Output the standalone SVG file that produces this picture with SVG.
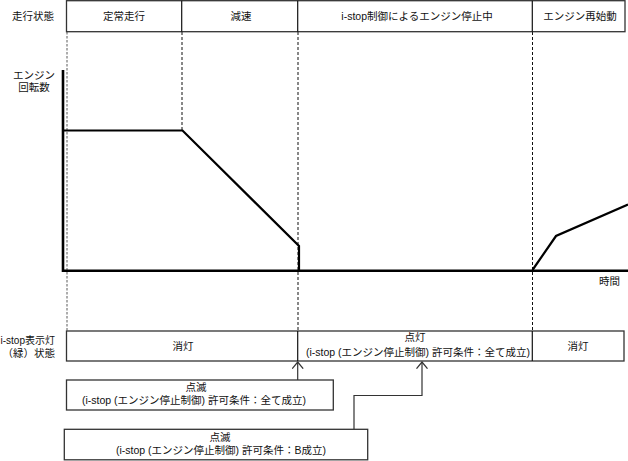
<svg xmlns="http://www.w3.org/2000/svg" width="628" height="461" viewBox="0 0 628 461">
<defs>
<style>
text{font-family:"Liberation Sans","Noto Sans CJK JP",sans-serif;font-size:10.5px;fill:#111}
.m{text-anchor:middle}
.e{text-anchor:end}
.box{fill:#fff;stroke:#333;stroke-width:1.3}
.div{stroke:#111;stroke-width:1.2}
.dash{stroke:#111;stroke-width:1;stroke-dasharray:3 2;fill:none}
.gdash{stroke:#999;stroke-width:1.6;stroke-dasharray:2.5 1.5;fill:none}
.axis{stroke:#000;stroke-width:2.6;fill:none}
.curve{stroke:#000;stroke-width:2.2;fill:none;stroke-linejoin:miter}
.conn{stroke:#333;stroke-width:1.2;fill:none}
</style>
<marker id="v" viewBox="0 0 8 12" refX="7.2" refY="6" markerWidth="8" markerHeight="12" markerUnits="userSpaceOnUse" orient="auto">
<path d="M0.5,0.5 L7.2,6 L0.5,11.5" fill="none" stroke="#333" stroke-width="1.2"/>
</marker>
</defs>
<rect width="628" height="461" fill="#fff"/>

<g id="labels">
<text class="m" x="33" y="20">走行状態</text>
<text class="m" x="34" y="79">エンジン</text>
<text class="m" x="34" y="91">回転数</text>
<text class="e" x="620" y="285">時間</text>
<text x="0.5" y="344" textLength="54.5" lengthAdjust="spacingAndGlyphs">i-stop表示灯</text>
<text class="e" x="55" y="357">（緑）状態</text>
</g>

<g id="guides">
<line class="gdash" x1="67" y1="32" x2="67" y2="331"/>
<line class="dash" x1="182" y1="32" x2="182" y2="130"/>
<line class="dash" x1="298" y1="32" x2="298" y2="331"/>
<line class="dash" x1="532.5" y1="32" x2="532.5" y2="331"/>
</g>

<g id="run-state">
<rect class="box" x="66.5" y="0.7" width="558.5" height="31"/>
<line class="div" x1="181.7" y1="0.7" x2="181.7" y2="31.7"/>
<line class="div" x1="297.7" y1="0.7" x2="297.7" y2="31.7"/>
<line class="div" x1="532.3" y1="0.7" x2="532.3" y2="31.7"/>
<text class="m" x="124" y="20">定常走行</text>
<text class="m" x="241" y="20">減速</text>
<text class="m" x="417" y="20">i-stop制御によるエンジン停止中</text>
<text class="m" x="580" y="20">エンジン再始動</text>
</g>

<g id="chart">
<polyline class="axis" points="63,70 63,270.7 628,270.7"/>
<polyline class="curve" points="63,130.5 182.5,130.5 299,246 299,270"/>
<polyline class="curve" points="532.5,270 556,236 628,204.5"/>
</g>

<g id="lamp-state">
<rect class="box" x="66.5" y="331" width="557.5" height="30"/>
<line class="div" x1="297.7" y1="331" x2="297.7" y2="361"/>
<line class="div" x1="532.3" y1="331" x2="532.3" y2="361"/>
<text class="m" x="183" y="350">消灯</text>
<text class="m" x="415" y="341">点灯</text>
<text class="m" x="418" y="356">(i-stop (エンジン停止制御) 許可条件：全て成立)</text>
<text class="m" x="578" y="350">消灯</text>
</g>

<g id="blink-all">
<rect class="box" x="66.5" y="380" width="266.8" height="30"/>
<text class="m" x="196" y="391">点滅</text>
<text class="m" x="194" y="404">(i-stop (エンジン停止制御) 許可条件：全て成立)</text>
</g>

<g id="blink-b">
<rect class="box" x="64.3" y="429.3" width="303.4" height="30.5"/>
<text class="m" x="220" y="441">点滅</text>
<text class="m" x="221" y="454">(i-stop (エンジン停止制御) 許可条件：B成立)</text>
</g>

<g id="connectors">
<polyline class="conn" points="297.7,380 297.7,362" marker-end="url(#v)"/>
<polyline class="conn" points="354,429.3 354,395.5 422,395.5 422,362" marker-end="url(#v)"/>
</g>
</svg>
